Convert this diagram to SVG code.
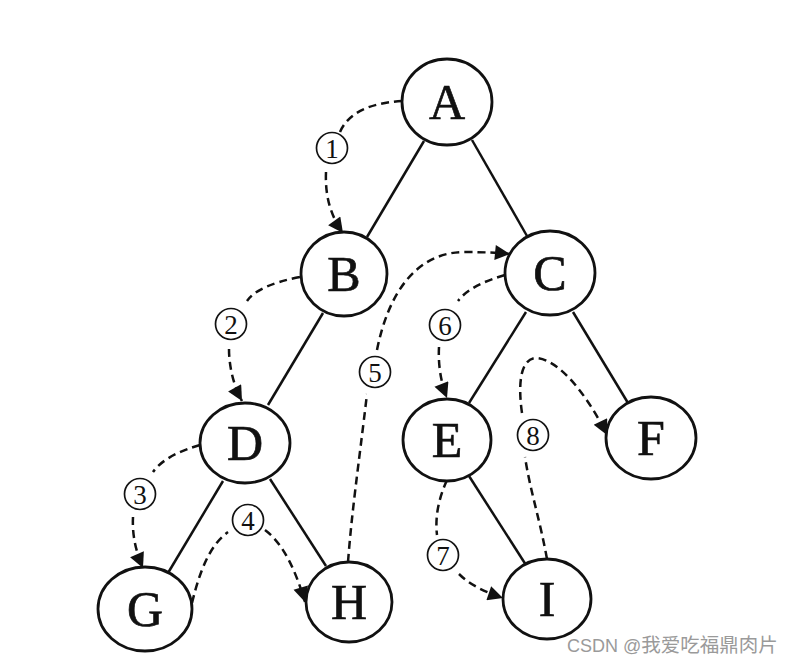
<svg xmlns="http://www.w3.org/2000/svg" width="794" height="664" viewBox="0 0 794 664">
<style>
.node ellipse{fill:#fff;stroke:#111;stroke-width:2.8}
.node text{font-family:"Liberation Serif","Times New Roman",serif;font-size:50px;fill:#111;stroke:#111;stroke-width:0.7;text-anchor:middle}
.edge{stroke:#111;stroke-width:2.5;fill:none}
.dash{stroke:#111;stroke-width:2.5;fill:none;stroke-dasharray:8 5}
.lbl circle{fill:#fff;stroke:#111;stroke-width:1.7}
.lbl text{font-family:"Liberation Serif","Times New Roman",serif;font-size:27px;fill:#111;text-anchor:middle}
.wm{font-family:"Liberation Sans","Noto Sans CJK SC",sans-serif;font-size:18px;fill:#9a9a9a}
</style>
<defs>
<marker id="arr" viewBox="0 0 10 10" refX="10" refY="5" markerUnits="userSpaceOnUse" markerWidth="19" markerHeight="15" orient="auto">
<path d="M0,0 L10,5 L0,10 z" fill="#111"/>
</marker>
</defs>
<rect width="794" height="664" fill="#fff"/>
<g id="connectors">
<line class="edge" x1="424" y1="141" x2="367" y2="237"/>
<line class="edge" x1="472" y1="140" x2="527" y2="236"/>
<line class="edge" x1="323" y1="313" x2="268" y2="405"/>
<line class="edge" x1="526" y1="312" x2="469" y2="403"/>
<line class="edge" x1="573" y1="312" x2="628" y2="403"/>
<line class="edge" x1="223" y1="481" x2="168" y2="573"/>
<line class="edge" x1="270" y1="479" x2="326" y2="566"/>
<line class="edge" x1="469" y1="476" x2="526" y2="565"/>
<path class="dash" d="M402,101 Q352,104 340,132"/>
<path class="dash" d="M326,172 C325,195 330,215 343,233" marker-end="url(#arr)"/>
<path class="dash" d="M300,277 Q258,285 247,301"/>
<path class="dash" d="M229,349 C229,365 233,385 242,401" marker-end="url(#arr)"/>
<path class="dash" d="M200,445 Q165,455 153,472"/>
<path class="dash" d="M133,517 C132,535 136,552 143,568" marker-end="url(#arr)"/>
<path class="dash" d="M192,603 C200,570 210,545 228,532"/>
<path class="dash" d="M265,530 C285,545 297,575 305,602" marker-end="url(#arr)"/>
<path class="dash" d="M348,562 C352,510 358,470 367,394"/>
<path class="dash" d="M377,350 C388,295 415,252 465,252 C485,252 500,253 510,254" marker-end="url(#arr)"/>
<path class="dash" d="M505,275 Q470,285 458,301"/>
<path class="dash" d="M439,347 C438,365 441,383 447,398" marker-end="url(#arr)"/>
<path class="dash" d="M447,480 C438,500 435,518 437,535"/>
<path class="dash" d="M459,574 C470,585 485,592 503,598" marker-end="url(#arr)"/>
<path class="dash" d="M547,559 C540,520 530,490 525,457"/>
<path class="dash" d="M522,413 C518,385 520,360 535,358 C560,358 590,400 607,435" marker-end="url(#arr)"/>
</g>
<g id="labels">
<g class="lbl"><circle cx="332" cy="148" r="15.5"/><text x="332" y="157.5">1</text></g>
<g class="lbl"><circle cx="231" cy="324" r="15.5"/><text x="231" y="333.5">2</text></g>
<g class="lbl"><circle cx="140" cy="494" r="15.5"/><text x="140" y="503.5">3</text></g>
<g class="lbl"><circle cx="248" cy="520" r="15.5"/><text x="248" y="529.5">4</text></g>
<g class="lbl"><circle cx="375" cy="372" r="15.5"/><text x="375" y="381.5">5</text></g>
<g class="lbl"><circle cx="445" cy="325" r="15.5"/><text x="445" y="334.5">6</text></g>
<g class="lbl"><circle cx="443" cy="555" r="15.5"/><text x="443" y="564.5">7</text></g>
<g class="lbl"><circle cx="533" cy="435" r="15.5"/><text x="533" y="444.5">8</text></g>
</g>
<g id="node-A" class="node"><ellipse cx="447" cy="102" rx="45" ry="43"/><text x="447" y="119">A</text></g>
<g id="node-B" class="node"><ellipse cx="344" cy="274" rx="43" ry="42"/><text x="344" y="291">B</text></g>
<g id="node-C" class="node"><ellipse cx="550" cy="273" rx="45" ry="42"/><text x="550" y="290">C</text></g>
<g id="node-D" class="node"><ellipse cx="245" cy="443" rx="45" ry="40"/><text x="245" y="460">D</text></g>
<g id="node-E" class="node"><ellipse cx="447" cy="440" rx="44" ry="41"/><text x="447" y="457">E</text></g>
<g id="node-F" class="node"><ellipse cx="651" cy="438" rx="45" ry="41"/><text x="651" y="455">F</text></g>
<g id="node-G" class="node"><ellipse cx="145" cy="609" rx="47" ry="42"/><text x="145" y="626">G</text></g>
<g id="node-H" class="node"><ellipse cx="349" cy="602" rx="43" ry="40"/><text x="349" y="619">H</text></g>
<g id="node-I" class="node"><ellipse cx="547" cy="599" rx="44" ry="40"/><text x="547" y="616">I</text></g>
<text class="wm" x="567" y="652">CSDN @<tspan font-size="19.5">我爱吃福鼎肉片</tspan></text>
</svg>
